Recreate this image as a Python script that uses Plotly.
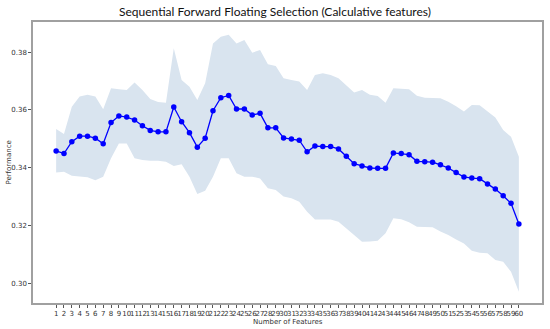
import plotly.graph_objects as go

n_features = list(range(1, 61))

performance = [
    0.3458, 0.3449, 0.3490, 0.3509, 0.3509, 0.3502, 0.3483, 0.3556, 0.3579, 0.3575,
    0.3565, 0.3545, 0.3529, 0.3524, 0.3524, 0.3610, 0.3559, 0.3521, 0.3471, 0.3502,
    0.3597, 0.3642, 0.3650, 0.3603, 0.3603, 0.3582, 0.3588, 0.3538, 0.3538, 0.3503,
    0.3499, 0.3495, 0.3455, 0.3475, 0.3473, 0.3473, 0.3465, 0.3440, 0.3414, 0.3406,
    0.3399, 0.3398, 0.3398, 0.3451, 0.3449, 0.3445, 0.3422, 0.3421, 0.3419, 0.3410,
    0.3399, 0.3383, 0.3368, 0.3364, 0.3362, 0.3344, 0.3326, 0.3303, 0.3277, 0.3205,
]

upper_band = [
    0.3534, 0.3517, 0.3611, 0.3646, 0.3652, 0.3646, 0.3602, 0.3675, 0.3671, 0.3669,
    0.3695, 0.3669, 0.3638, 0.3627, 0.3625, 0.3813, 0.3703, 0.3680, 0.3634, 0.3692,
    0.3830, 0.3853, 0.3860, 0.3830, 0.3842, 0.3798, 0.3807, 0.3758, 0.3752, 0.3709,
    0.3703, 0.3698, 0.3669, 0.3721, 0.3727, 0.3721, 0.3709, 0.3686, 0.3660, 0.3669,
    0.3652, 0.3648, 0.3625, 0.3675, 0.3672, 0.3671, 0.3649, 0.3642, 0.3641, 0.3640,
    0.3628, 0.3613, 0.3594, 0.3617, 0.3616, 0.3594, 0.3574, 0.3530, 0.3507, 0.3438,
]

lower_band = [
    0.3383, 0.3386, 0.3372, 0.3369, 0.3367, 0.3357, 0.3369, 0.3433, 0.3484, 0.3484,
    0.3433, 0.3427, 0.3424, 0.3424, 0.3421, 0.3406, 0.3412, 0.3369, 0.3309, 0.3320,
    0.3369, 0.3433, 0.3433, 0.3381, 0.3369, 0.3369, 0.3363, 0.3329, 0.3323, 0.3300,
    0.3294, 0.3282, 0.3248, 0.3221, 0.3221, 0.3221, 0.3213, 0.3190, 0.3167, 0.3144,
    0.3145, 0.3147, 0.3173, 0.3225, 0.3222, 0.3211, 0.3196, 0.3196, 0.3194, 0.3179,
    0.3167, 0.3152, 0.3138, 0.3113, 0.3106, 0.3104, 0.3081, 0.3075, 0.3040, 0.2971,
]

y_ticks = [0.30, 0.32, 0.34, 0.36, 0.38]

fig = go.Figure()
fig.add_trace(go.Scatter(x=n_features, y=upper_band, mode="lines",
                         line=dict(width=0, color="rgba(0,0,0,0)"),
                         hoverinfo="skip", showlegend=False))
fig.add_trace(go.Scatter(x=n_features, y=lower_band, mode="lines",
                         line=dict(width=0, color="rgba(0,0,0,0)"),
                         fill="tonexty", fillcolor="#d9e4ef",
                         hoverinfo="skip", showlegend=False))
fig.add_trace(go.Scatter(x=n_features, y=performance, mode="lines+markers",
                         line=dict(color="#0000ff", width=1.3),
                         marker=dict(color="#0000ff", size=5.5),
                         showlegend=False))

tick_font = dict(family="DejaVu Sans", size=7, color="#333333")

fig.update_layout(
    width=550, height=329,
    margin=dict(l=33, r=8, t=22, b=26),
    paper_bgcolor="white", plot_bgcolor="white",
    title=dict(text="Sequential Forward Floating Selection (Calculative features)",
               x=0.5, xanchor="center", y=0.963, yanchor="middle",
               font=dict(family="Lato", size=12, color="#111111")),
    xaxis=dict(range=[-1.95, 62.95], tickmode="array", tickvals=n_features,
               ticktext=[str(v) for v in n_features],
               ticks="outside", ticklen=3, tickcolor="#555555", tickwidth=0.8,
               tickfont=tick_font, tickangle=0,
               showline=True, linecolor="#a0a0a0", linewidth=1.5, mirror=True,
               showgrid=False, zeroline=False, automargin=False),
    yaxis=dict(range=[0.2932, 0.3904], tickmode="array", tickvals=y_ticks,
               ticktext=[f"{v:.2f}" for v in y_ticks],
               ticks="outside", ticklen=3, tickcolor="#555555", tickwidth=0.8,
               tickfont=tick_font,
               showline=True, linecolor="#a0a0a0", linewidth=1.5, mirror=True,
               showgrid=False, zeroline=False, automargin=False),
    annotations=[
        dict(text="Number of Features", xref="paper", yref="paper",
             x=0.5, y=-0.066, xanchor="center", yanchor="middle",
             showarrow=False, font=tick_font),
        dict(text="Performance", xref="paper", yref="paper",
             x=-0.049, y=0.5, xanchor="center", yanchor="middle",
             textangle=-90, showarrow=False, font=tick_font),
    ],
)

fig.write_html("out.html", config={"displayModeBar": False},
               post_script="document.body.style.margin='0';document.body.style.overflow='hidden';")
